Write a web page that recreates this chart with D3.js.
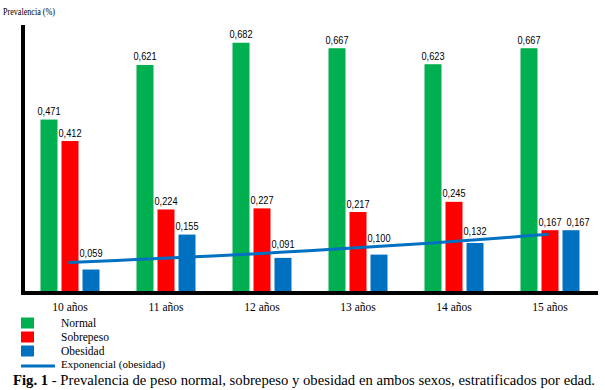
<!DOCTYPE html>
<html><head><meta charset="utf-8">
<script src="https://cdn.jsdelivr.net/npm/d3@7"></script>
<style>
html,body{margin:0;padding:0;background:#fff;}
svg{display:block;}
</style></head>
<body>
<svg id="chart" width="605" height="390"></svg>
<script>
const categories = ["10 años","11 años","12 años","13 años","14 años","15 años"];
const seriesNames = ["Normal","Sobrepeso","Obesidad"];
const normal    = [0.471, 0.621, 0.682, 0.667, 0.623, 0.667];
const sobrepeso = [0.412, 0.224, 0.227, 0.217, 0.245, 0.167];
const obesidad  = [0.059, 0.155, 0.091, 0.100, 0.132, 0.167];
const colors = ["#00B050","#FF0000","#0070C0"];
const trendName = "Exponencial (obesidad)";
const yTitle = "Prevalencia (%)";
const captionBold = "Fig. 1";
const captionText = " - Prevalencia de peso normal, sobrepeso y obesidad en ambos sexos, estratificados por edad.";

const series = [normal, sobrepeso, obesidad];
const svg = d3.select("#chart");
const serif = "'Liberation Serif','Times New Roman',serif";
const numFont = "'Liberation Sans',Arial,sans-serif";

const x0 = d3.scaleBand().domain(categories).range([22, 598]).padding(0);
const x1 = d3.scaleBand().domain(seriesNames).range([0, 59]).paddingInner(4/21).paddingOuter(0);
const y = d3.scaleLinear().domain([0, (291-25)/364]).range([291, 25]);

const center = c => x0(c) + x0.bandwidth()/2;
const barX = (c, s) => center(c) - 29.5 + x1(s);

// exponential trend fit of obesity (least squares on ln)
const idx = obesidad.map((d,i)=>i+1);
const lny = obesidad.map(Math.log);
const mx = d3.mean(idx), my = d3.mean(lny);
const b = d3.sum(idx.map((t,i)=>(t-mx)*(lny[i]-my))) / d3.sum(idx.map(t=>(t-mx)*(t-mx)));
const a = my - b*mx;
const trendVal = t => Math.exp(a + b*t);
const c1 = center(categories[0]), cN = center(categories[categories.length-1]);
const step = x0.step();
const tAtX = px => 1 + (px - c1)/step;

// bars
const g = svg.append("g");
series.forEach((vals, si) => {
  g.selectAll(null).data(vals).join("rect")
    .attr("x", (d,i)=>barX(categories[i], seriesNames[si]))
    .attr("y", d=>y(d))
    .attr("width", x1.bandwidth())
    .attr("height", d=>y(0)-y(d))
    .attr("fill", colors[si]);
});

// trend line
const ts = d3.range(1, categories.length + 0.0001, 0.25);
svg.append("path")
  .attr("d", d3.line().x(t=>c1 - 1.5 + (t-1)*step).y(t=>y(trendVal(t)))(ts))
  .attr("fill","none").attr("stroke","#0070C0").attr("stroke-width",3);

// value labels with simple collision avoidance inside a group
const LW = 23;
categories.forEach((c, i) => {
  let prev = null;
  series.forEach((vals, si) => {
    const d = vals[i];
    let cx = barX(c, seriesNames[si]) + x1.bandwidth()/2;
    let top = y(d);
    if (cx >= c1 && cx < cN - 1) top = Math.min(top, y(trendVal(tAtX(cx))));
    const ly = top - 4.5;
    if (prev && Math.abs(prev.y - ly) < 10 && cx - LW/2 < prev.x + LW/2 + 3) {
      cx = prev.x + LW + 5;
    }
    svg.append("text")
      .attr("x", cx).attr("y", ly)
      .attr("text-anchor","middle")
      .attr("font-family", numFont).attr("font-size", 11).attr("fill","#000")
      .attr("textLength", LW).attr("lengthAdjust","spacingAndGlyphs")
      .text(d3.format(".3f")(d).replace(".", ","));
    prev = {x: cx, y: ly};
  });
});

// axes
svg.append("line").attr("x1",23).attr("x2",23).attr("y1",25).attr("y2",295)
  .attr("stroke","#000").attr("stroke-width",4);
svg.append("line").attr("x1",21).attr("x2",598).attr("y1",293).attr("y2",293)
  .attr("stroke","#000").attr("stroke-width",4);

// category labels
svg.selectAll(null).data(categories).join("text")
  .attr("x", d=>center(d)).attr("y", 310.5)
  .attr("text-anchor","middle")
  .attr("font-family", serif).attr("font-size", 11.5)
  .text(d=>d);

// y title
svg.append("text").attr("x",3).attr("y",15)
  .attr("font-family", serif).attr("font-size", 10)
  .attr("textLength", 52).attr("lengthAdjust","spacingAndGlyphs")
  .text(yTitle);

// legend
const legY = [317.5, 331.5, 345.5];
seriesNames.forEach((s, i) => {
  svg.append("rect").attr("x",21).attr("y",legY[i]).attr("width",13).attr("height",11).attr("fill",colors[i]);
  svg.append("text").attr("x",61).attr("y",legY[i]+9)
    .attr("font-family", serif).attr("font-size", 11.5).text(s);
});
svg.append("line").attr("x1",21).attr("x2",55).attr("y1",366).attr("y2",366)
  .attr("stroke","#0070C0").attr("stroke-width",3);
svg.append("text").attr("x",61).attr("y",368)
  .attr("font-family", serif).attr("font-size", 11).text(trendName);

// caption
const cap = svg.append("text").attr("x",13).attr("y",385)
  .attr("font-family", serif).attr("font-size", 14.7);
cap.append("tspan").attr("font-weight","bold").text(captionBold);
cap.append("tspan").text(captionText);
</script>
</body></html>
